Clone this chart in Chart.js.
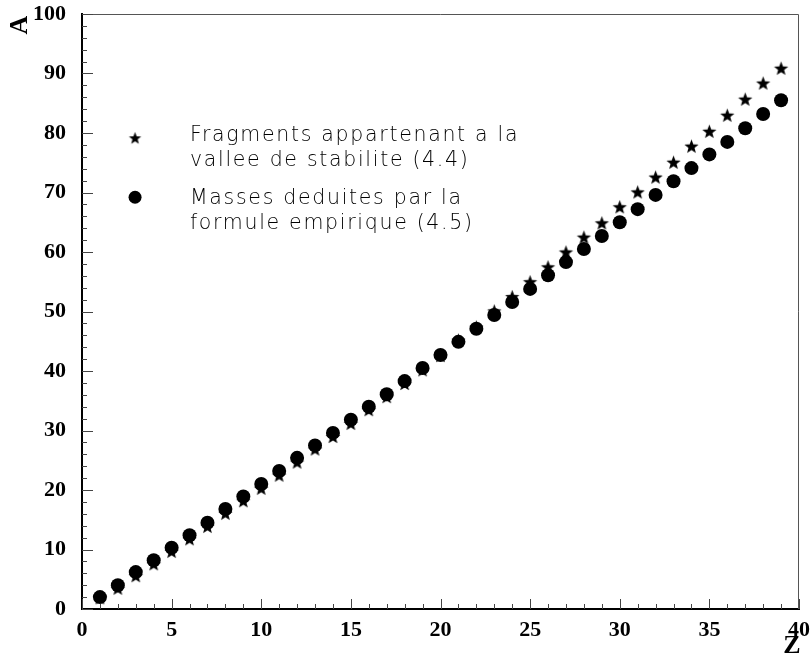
<!DOCTYPE html>
<html>
<head>
<meta charset="utf-8">
<script src="https://cdn.jsdelivr.net/npm/chart.js@4"></script>
<style>
  html, body { margin: 0; padding: 0; background: #fff; }
  #wrap { width: 810px; height: 658px; }
</style>
</head>
<body>
<div id="wrap"><canvas id="chart" width="810" height="658"></canvas></div>
<script>
// Z values (charge)
const zValues = [1, 2, 3, 4, 5, 6, 7, 8, 9, 10, 11, 12, 13, 14, 15, 16, 17, 18, 19, 20,
                 21, 22, 23, 24, 25, 26, 27, 28, 29, 30, 31, 32, 33, 34, 35, 36, 37, 38, 39];

// Masses deduites par la formule empirique (4.5)
const massFormula = [2.0, 4.0, 6.2, 8.2, 10.3, 12.4, 14.5, 16.8, 18.9, 21.0,
                     23.2, 25.4, 27.5, 29.6, 31.8, 34.0, 36.1, 38.3, 40.5, 42.7,
                     44.9, 47.1, 49.4, 51.6, 53.8, 56.1, 58.3, 60.5, 62.7, 65.0,
                     67.2, 69.6, 71.9, 74.1, 76.4, 78.5, 80.8, 83.2, 85.5];

// Fragments appartenant a la vallee de stabilite (4.4)
const massValley = [1.9, 3.5, 5.6, 7.6, 9.7, 11.8, 13.9, 16.1, 18.2, 20.3,
                    22.5, 24.7, 26.9, 29.0, 31.2, 33.5, 35.7, 37.9, 40.2, 42.6,
                    45.2, 47.4, 50.1, 52.5, 55.0, 57.5, 60.0, 62.5, 64.9, 67.6,
                    70.1, 72.6, 75.1, 77.8, 80.3, 83.0, 85.7, 88.4, 90.9];

const legendLines = [
    ['Fragments appartenant a la', 'vallee de stabilite (4.4)'],
    ['Masses deduites par la', 'formule empirique (4.5)']
];

const xTitle = 'Z';
const yTitle = 'A';

// image d'etoile pleine a 5 branches
function makeStar(r) {
    const c = document.createElement('canvas');
    const s = Math.ceil(2 * r + 2);
    c.width = s; c.height = s;
    const g = c.getContext('2d');
    g.fillStyle = '#000';
    g.beginPath();
    for (let i = 0; i < 10; i++) {
        const rad = i % 2 === 0 ? r : r * 0.42;
        const a = -Math.PI / 2 + i * Math.PI / 5;
        const x = s / 2 + rad * Math.cos(a);
        const y = s / 2 + rad * Math.sin(a) + r * 0.1;
        if (i === 0) g.moveTo(x, y); else g.lineTo(x, y);
    }
    g.closePath();
    g.fill();
    return c;
}
const starImg = makeStar(7.5);
const legendStar = makeStar(6.5);

const serif = '"Liberation Serif", "Times New Roman", serif';

function noPad(s) {
    s.paddingTop = 0; s.paddingBottom = 0;
    s.paddingLeft = 0; s.paddingRight = 0;
}

// ticks internes, cadre, titres et legende
const framePlugin = {
    id: 'frame',
    afterDatasetsDraw(chart) {
        const ctx = chart.ctx;
        const a = chart.chartArea;
        const xs = chart.scales.x, ys = chart.scales.y;
        ctx.save();
        // cadre haut / droite
        ctx.strokeStyle = '#555';
        ctx.lineWidth = 1;
        ctx.beginPath();
        ctx.moveTo(a.left, a.top + 0.5);
        ctx.lineTo(a.right - 0.5, a.top + 0.5);
        ctx.lineTo(a.right - 0.5, a.bottom);
        ctx.stroke();
        // ticks
        ctx.strokeStyle = '#444';
        ctx.beginPath();
        for (let v = 0; v <= 40; v++) {
            const px = Math.round(xs.getPixelForValue(v)) + 0.5;
            const len = v % 5 === 0 ? 10 : 5;
            ctx.moveTo(px, a.bottom);
            ctx.lineTo(px, a.bottom - len);
        }
        for (let v = 0; v <= 100; v += 2) {
            const py = Math.round(ys.getPixelForValue(v)) + 0.5;
            const len = v % 10 === 0 ? 11 : 5;
            ctx.moveTo(a.left, py);
            ctx.lineTo(a.left + len, py);
        }
        ctx.stroke();

        // titres des axes
        ctx.fillStyle = '#000';
        ctx.font = 'bold 26px ' + serif;
        ctx.textAlign = 'center';
        ctx.textBaseline = 'middle';
        ctx.fillText(xTitle, a.right - 7, a.bottom + 37);
        ctx.save();
        ctx.translate(20, a.top + 11);
        ctx.rotate(-Math.PI / 2);
        ctx.fillText(yTitle, 0, 0);
        ctx.restore();

        // legende
        ctx.font = '300 20.5px "DejaVu Sans", sans-serif';
        ctx.fillStyle = '#000';
        ctx.textBaseline = 'middle';
        ctx.textAlign = 'left';
        if ('letterSpacing' in ctx) ctx.letterSpacing = '1.7px';
        const mx = xs.getPixelForValue(2.96);
        const tx = xs.getPixelForValue(6.02);
        const markRows = [79.2, 69.2];
        const textRows = [79.5, 68.9];
        markRows.forEach((yv, i) => {
            const py = ys.getPixelForValue(yv);
            if (i === 0) {
                ctx.drawImage(legendStar, mx - legendStar.width / 2, py - legendStar.height / 2);
            } else {
                ctx.beginPath();
                ctx.arc(mx, py, 6.5, 0, Math.PI * 2);
                ctx.fill();
            }
            const ty = ys.getPixelForValue(textRows[i]);
            ctx.fillText(legendLines[i][0], tx, ty);
            ctx.fillText(legendLines[i][1], tx, ty + 24.5);
        });
        ctx.restore();
    }
};

const ctx = document.getElementById('chart').getContext('2d');
new Chart(ctx, {
    type: 'scatter',
    data: {
        datasets: [{
            label: 'Masses deduites par la formule empirique (4.5)',
            data: zValues.map((z, i) => ({ x: z, y: massFormula[i] })),
            pointStyle: 'circle',
            pointRadius: 7,
            backgroundColor: '#000',
            borderColor: '#000',
            borderWidth: 0,
            order: 0
        }, {
            label: 'Fragments appartenant a la vallee de stabilite (4.4)',
            data: zValues.map((z, i) => ({ x: z, y: massValley[i] })),
            pointStyle: starImg,
            pointRadius: 7.5,
            backgroundColor: '#000',
            borderColor: '#000',
            order: 1
        }]
    },
    options: {
        responsive: false,
        animation: false,
        events: [],
        layout: { autoPadding: false, padding: { top: 14, right: 11, left: 0, bottom: 0 } },
        plugins: { legend: { display: false }, tooltip: { enabled: false } },
        scales: {
            x: {
                type: 'linear', min: 0, max: 40,
                afterFit(s) { s.height = 49; noPad(s); },
                border: { color: '#000', width: 2 },
                grid: { display: false, drawTicks: false },
                ticks: {
                    stepSize: 5, padding: 8, color: '#000',
                    font: { family: serif, size: 22, weight: 'bold' }
                }
            },
            y: {
                type: 'linear', min: 0, max: 100,
                afterFit(s) { s.width = 82; noPad(s); },
                border: { color: '#000', width: 2 },
                grid: { display: false, drawTicks: false },
                ticks: {
                    stepSize: 10, padding: 16, color: '#000',
                    font: { family: serif, size: 22, weight: 'bold' }
                }
            }
        }
    },
    plugins: [framePlugin]
});
</script>
</body>
</html>
